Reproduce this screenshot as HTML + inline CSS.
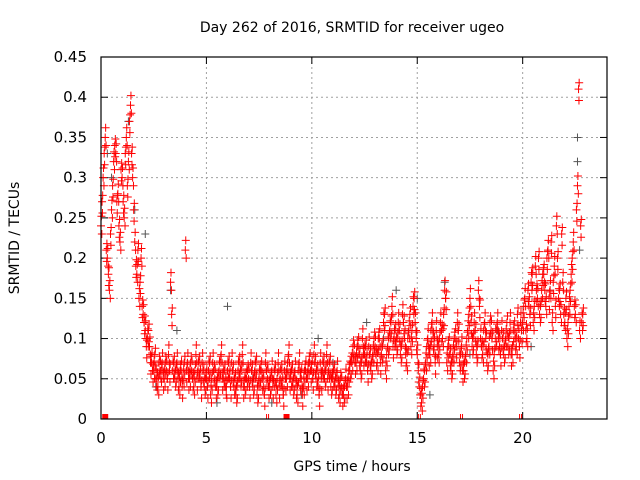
<!DOCTYPE html>
<html><head><meta charset="utf-8"><style>
html,body{margin:0;padding:0;background:#fff}
svg{display:block;font-family:"DejaVu Sans","Liberation Sans",sans-serif}
</style></head><body>
<svg id="chart" width="640" height="480" viewBox="0 0 640 480" xmlns="http://www.w3.org/2000/svg">
<text x="352" y="32" font-size="14" text-anchor="middle" fill="#000">Day 262 of 2016, SRMTID for receiver ugeo</text>
<text transform="translate(19,238) rotate(-90)" font-size="14" text-anchor="middle" fill="#000">SRMTID / TECUs</text>
<text x="352" y="471" font-size="14" text-anchor="middle" fill="#000">GPS time / hours</text>
<g id="grid"></g>
<g id="ticks"></g>
<g id="gray"></g>
<g id="red"></g>
<rect x="101" y="57" width="506" height="362" fill="none" stroke="#000" stroke-width="1.2"/>
</svg>
<script>
const xTicks=[0,5,10,15,20];
const yTicks=[0,0.05,0.1,0.15,0.2,0.25,0.3,0.35,0.4,0.45];
const yTickLabels=["0","0.05","0.1","0.15","0.2","0.25","0.3","0.35","0.4","0.45"];
const seriesAStart=0.0, seriesBStart=0.05, step=0.1;
const seriesA=[
0.24,0.30,0.35,0.20,0.16,0.26,0.32,0.33,0.28,0.22,
0.30,0.25,0.35,0.32,0.39,0.30,0.22,0.18,0.15,0.20,
0.13,0.11,0.10,0.09,0.07,0.06,0.05,0.04,0.06,0.07,
0.05,0.06,0.08,0.17,0.06,0.05,0.07,0.04,0.06,0.05,
0.21,0.07,0.05,0.06,0.04,0.08,0.06,0.05,0.07,0.04,
0.05,0.06,0.03,0.07,0.05,0.04,0.06,0.08,0.05,0.04,
0.06,0.05,0.07,0.04,0.03,0.06,0.05,0.08,0.04,0.05,
0.05,0.07,0.04,0.06,0.03,0.05,0.06,0.04,0.07,0.05,
0.04,0.06,0.05,0.03,0.07,0.05,0.04,0.06,0.05,0.08,
0.05,0.04,0.06,0.03,0.07,0.05,0.04,0.06,0.05,0.07,
0.06,0.08,0.05,0.04,0.07,0.06,0.05,0.08,0.06,0.04,
0.05,0.04,0.06,0.03,0.04,0.03,0.05,0.04,0.06,0.07,
0.08,0.07,0.09,0.06,0.10,0.08,0.07,0.09,0.06,0.08,
0.09,0.07,0.10,0.08,0.12,0.06,0.09,0.11,0.14,0.10,
0.09,0.12,0.08,0.13,0.10,0.07,0.11,0.09,0.14,0.12,
0.08,0.04,0.02,0.05,0.07,0.10,0.08,0.12,0.09,0.11,
0.08,0.12,0.10,0.16,0.07,0.09,0.06,0.08,0.10,0.12,
0.07,0.09,0.06,0.08,0.11,0.15,0.09,0.12,0.08,0.16,
0.10,0.08,0.12,0.07,0.09,0.11,0.06,0.10,0.12,0.09,
0.11,0.08,0.10,0.09,0.12,0.08,0.11,0.09,0.10,0.12,
0.12,0.15,0.10,0.14,0.17,0.12,0.19,0.15,0.13,0.16,
0.18,0.14,0.21,0.16,0.12,0.19,0.24,0.15,0.13,0.17,
0.12,0.10,0.14,0.18,0.22,0.13,0.29,0.11,0.12];
const seriesB=[
0.27,0.33,0.21,0.18,0.23,0.29,0.34,0.27,0.24,0.31,
0.27,0.33,0.29,0.37,0.33,0.26,0.19,0.21,0.17,0.14,
0.12,0.09,0.11,0.07,0.06,0.08,0.05,0.07,0.06,0.05,
0.07,0.05,0.06,0.13,0.07,0.06,0.05,0.06,0.04,0.07,
0.06,0.05,0.07,0.05,0.06,0.05,0.07,0.04,0.06,0.05,
0.04,0.07,0.05,0.06,0.04,0.05,0.07,0.05,0.06,0.04,
0.07,0.04,0.06,0.05,0.04,0.07,0.06,0.04,0.05,0.06,
0.04,0.06,0.05,0.07,0.04,0.06,0.05,0.03,0.06,0.04,
0.05,0.04,0.06,0.05,0.04,0.06,0.03,0.05,0.07,0.05,
0.06,0.05,0.04,0.06,0.05,0.03,0.06,0.05,0.07,0.06,
0.05,0.07,0.06,0.03,0.05,0.07,0.06,0.05,0.07,0.05,
0.06,0.05,0.04,0.05,0.03,0.04,0.04,0.06,0.07,0.09,
0.07,0.09,0.08,0.07,0.08,0.09,0.06,0.08,0.07,0.10,
0.08,0.10,0.07,0.09,0.13,0.08,0.10,0.12,0.09,0.11,
0.10,0.11,0.09,0.12,0.08,0.10,0.13,0.11,0.15,0.10,
0.06,0.03,0.04,0.06,0.09,0.08,0.11,0.10,0.07,0.09,
0.10,0.11,0.13,0.15,0.09,0.08,0.07,0.10,0.09,0.11,
0.08,0.06,0.07,0.10,0.13,0.12,0.10,0.11,0.09,0.14,
0.09,0.11,0.10,0.08,0.12,0.10,0.08,0.11,0.10,0.08,
0.10,0.09,0.12,0.10,0.08,0.11,0.10,0.13,0.09,0.11,
0.14,0.11,0.16,0.13,0.18,0.14,0.16,0.20,0.14,0.18,
0.16,0.20,0.15,0.22,0.17,0.14,0.20,0.16,0.23,0.13,
0.15,0.12,0.16,0.20,0.14,0.26,0.41,0.24,0.13];
const grayHours=[0.3,0.5,1.3,1.6,2.1,2.6,3.3,3.6,5.5,6.0,7.2,8.1,9.5,10.3,11.0,12.6,13.4,14.0,15.0,15.6,16.3,17.5,18.8,19.9,20.4,21.3,22.6,22.6,22.7];
const grayValues=[0.33,0.30,0.37,0.26,0.23,0.04,0.16,0.11,0.02,0.14,0.05,0.02,0.03,0.10,0.07,0.12,0.10,0.16,0.15,0.03,0.17,0.08,0.11,0.12,0.09,0.16,0.35,0.32,0.21];
const markHours=[0.2,8.8];
const gapHours=[7.9,15.1,17.1,19.9];

const X0=101,X1=607,Y0=419,Y1=57,XMAX=24,YMAX=0.45;
const sx=h=>X0+(X1-X0)*h/XMAX;
const sy=v=>Y0-(Y0-Y1)*v/YMAX;
const NS="http://www.w3.org/2000/svg";
function mk(tag,attrs,parent){const e=document.createElementNS(NS,tag);for(const k in attrs)e.setAttribute(k,attrs[k]);parent.appendChild(e);return e;}
const grid=document.getElementById('grid'),ticks=document.getElementById('ticks');
xTicks.forEach(t=>{
  const x=sx(t);
  if(t>0){const g=mk('line',{x1:x,y1:Y1,x2:x,y2:Y0,stroke:'#a0a0a0','stroke-dasharray':'2,3'},grid);
  
  }
  mk('line',{x1:x,y1:Y0,x2:x,y2:Y0-7,stroke:'#000'},ticks);
  mk('line',{x1:x,y1:Y1,x2:x,y2:Y1+7,stroke:'#000'},ticks);
  const tx=mk('text',{x:x,y:443,'font-size':15,'text-anchor':'middle',fill:'#000'},ticks);
  tx.textContent=String(t);
  
  
});
yTicks.forEach((t,i)=>{
  const y=sy(t);
  if(i>0&&i<yTicks.length-1){const g=mk('line',{x1:X0,y1:y,x2:X1,y2:y,stroke:'#a0a0a0','stroke-dasharray':'2,3'},grid);
  
  }
  mk('line',{x1:X0,y1:y,x2:X0+7,y2:y,stroke:'#000'},ticks);
  mk('line',{x1:X1,y1:y,x2:X1-7,y2:y,stroke:'#000'},ticks);
  const tx=mk('text',{x:87,y:y+5,'font-size':15,'text-anchor':'end',fill:'#000'},ticks);
  tx.textContent=yTickLabels[i];
  
  
});
function plus(g,h,v,color){
  const x=sx(h),y=sy(v);
  const p=mk('path',{d:`M${x-4},${y}H${x+4}M${x},${y-4}V${y+4}`,stroke:color,'stroke-width':1,fill:'none'},g);
  
  
}
const gray=document.getElementById('gray'),red=document.getElementById('red');
grayHours.forEach((h,i)=>plus(gray,h,grayValues[i],'#555'));
seriesA.forEach((v,i)=>{plus(red,seriesAStart+i*step,v,'#f00');plus(red,seriesAStart+i*step+0.02,v+0.012,'#f00');plus(red,seriesAStart+i*step+0.04,v-0.01,'#f00');});
seriesB.forEach((v,i)=>{plus(red,seriesBStart+i*step,v,'#f00');plus(red,seriesBStart+i*step+0.02,v-0.014,'#f00');plus(red,seriesBStart+i*step+0.03,v+0.008,'#f00');});
markHours.forEach(h=>{const r=mk('rect',{x:sx(h)-3,y:Y0-5,width:6,height:5,fill:'#f00'},red);

});
gapHours.forEach(h=>{const r=mk('path',{d:`M${sx(h)-1},${Y0-5}V${Y0}M${sx(h)+1},${Y0-5}V${Y0}`,stroke:'#f00'},red);

});
</script>
</body></html>
